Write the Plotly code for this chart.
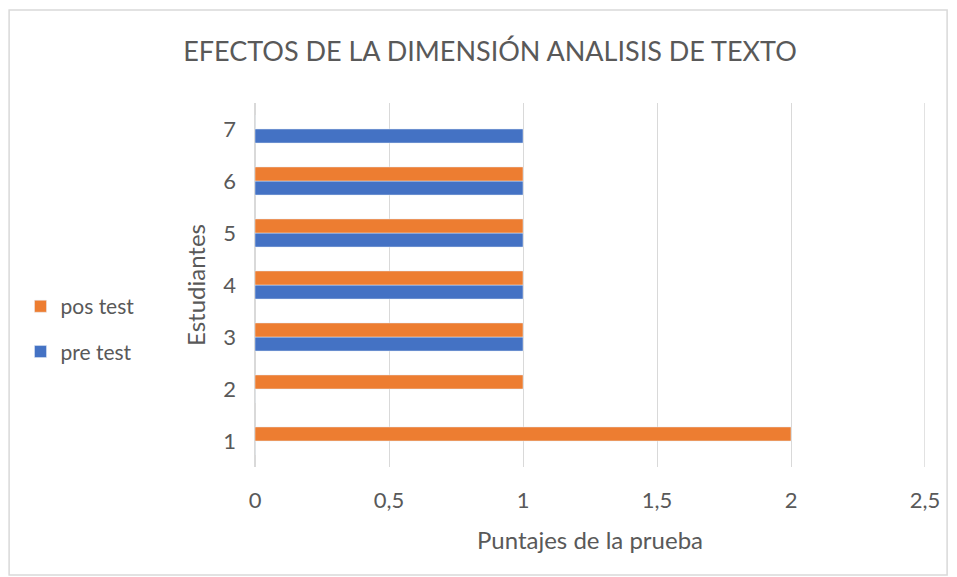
import plotly.graph_objects as go

estudiantes = [1, 2, 3, 4, 5, 6, 7]
pre_test = [0, 0, 1, 1, 1, 1, 1]
pos_test = [2, 1, 1, 1, 1, 1, 0]
x_ticks = [0, 0.5, 1, 1.5, 2, 2.5]

font = "Lato, 'Open Sans', sans-serif"
gray = "#595959"
grid = "#D9D9D9"

fig = go.Figure()
fig.add_trace(go.Bar(y=estudiantes, x=pre_test, name="pre test", orientation="h",
                     marker_color="#4472C4", legendgroup="pre", legendrank=2))
fig.add_trace(go.Bar(y=estudiantes, x=pos_test, name="pos test", orientation="h",
                     marker_color="#ED7D31", legendgroup="pos", legendrank=1))

# the page puts the figure at (8, 8), so sizes are 8px smaller than the window
# plot area in figure pixels: x 247-917, y 95-459
fig.update_layout(
    width=949, height=569,
    margin=dict(l=247, r=32, t=95, b=110),
    paper_bgcolor="white", plot_bgcolor="white",
    separators=", ",
    barmode="group", bargap=0.46, bargroupgap=0,
    font=dict(family=font, color=gray, size=22),
    title=dict(text="EFECTOS DE LA DIMENSIÓN ANALISIS DE TEXTO",
               x=0.3507, xref="paper", xanchor="center",
               y=1 - 44 / 569, yref="container", yanchor="middle",
               font=dict(size=27, color=gray, family=font)),
    legend=dict(x=-0.35, xanchor="left", y=0.497, yanchor="top",
                traceorder="grouped", tracegroupgap=15,
                font=dict(size=21, color=gray), itemwidth=30),
    xaxis=dict(range=[0, 2.5], tickvals=x_ticks, showgrid=True,
               gridcolor=grid, gridwidth=1, zeroline=True,
               zerolinecolor=grid, zerolinewidth=2,
               showline=False, ticks="", ticklabelstandoff=18,
               title=dict(text="Puntajes de la prueba", standoff=20,
                          font=dict(size=24, color=gray))),
    yaxis=dict(range=[0.5, 7.5], tickvals=estudiantes, showgrid=False,
               zeroline=False, showline=False, ticks="", ticklabelstandoff=18,
               title=dict(text="Estudiantes", standoff=10,
                          font=dict(size=24, color=gray))),
    showlegend=True,
)

# last gridline at the right edge of the plot (plotly skips it)
fig.add_shape(type="line", xref="x", yref="paper", x0=x_ticks[-1], x1=x_ticks[-1],
              y0=0, y1=1, line=dict(color=grid, width=1.5), layer="below")

# chart border
fig.add_shape(type="rect", xref="paper", yref="paper",
              x0=-0.367, x1=1.033, y0=-0.2967, y1=1.2555,
              line=dict(color=grid, width=1.5), layer="below")

fig.write_html("out.html")
